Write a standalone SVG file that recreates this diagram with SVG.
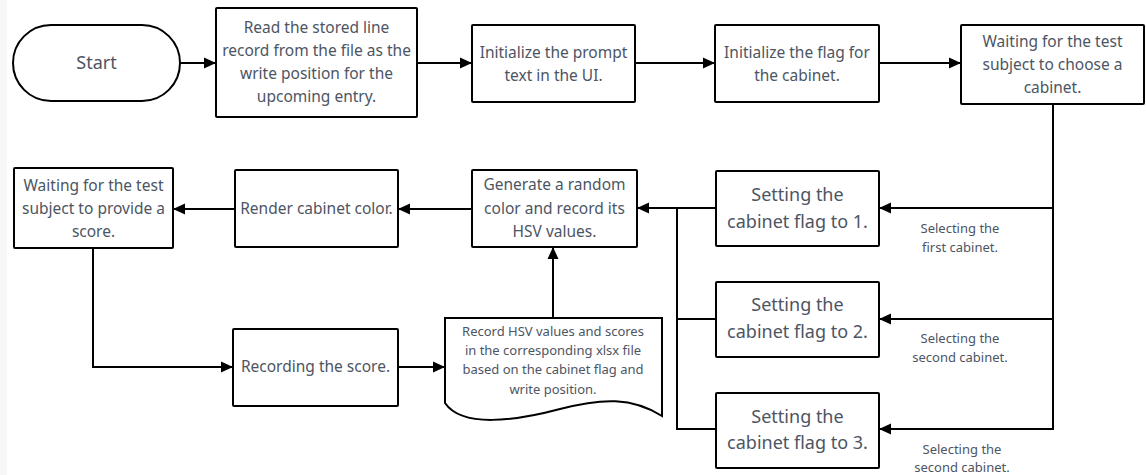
<svg xmlns="http://www.w3.org/2000/svg" width="1146" height="475" viewBox="0 0 1146 475">
<defs>
<style>
.box{fill:#fff;stroke:#000;stroke-width:2}
.t{font-family:"Noto Sans","Liberation Sans",sans-serif;fill:#4d5563;text-anchor:middle}
.m{font-size:15.5px}
.l{font-size:18px}
.s{font-size:13px}
.c{fill:none;stroke:#000;stroke-width:2}
</style>
<marker id="ah" viewBox="0 0 12 12" refX="12" refY="6" markerWidth="12" markerHeight="12" markerUnits="userSpaceOnUse" orient="auto">
<path d="M0,0.5 L12,6 L0,11.5 Z" fill="#000"/>
</marker>
</defs>
<rect x="0" y="0" width="1146" height="475" fill="#fff"/>
<rect x="0" y="0" width="7" height="475" fill="#f7f7f7"/>

<g id="connectors">
<path class="c" d="M180,63 H216" marker-end="url(#ah)"/>
<path class="c" d="M417,63 H472" marker-end="url(#ah)"/>
<path class="c" d="M635,63 H715" marker-end="url(#ah)"/>
<path class="c" d="M879,63 H961" marker-end="url(#ah)"/>
<path class="c" d="M1053,104 V208 H879" marker-end="url(#ah)"/>
<path class="c" d="M1053,208 V319 H879" marker-end="url(#ah)"/>
<path class="c" d="M1053,319 V429 H879" marker-end="url(#ah)"/>
<path class="c" d="M716,208 H637" marker-end="url(#ah)"/>
<path class="c" d="M716,319 H677 V208"/>
<path class="c" d="M716,429 H677 V319"/>
<path class="c" d="M472,209 H398" marker-end="url(#ah)"/>
<path class="c" d="M235,209 H173" marker-end="url(#ah)"/>
<path class="c" d="M93,248 V367 H233" marker-end="url(#ah)"/>
<path class="c" d="M398,367 H445" marker-end="url(#ah)"/>
<path class="c" d="M553,318 V247" marker-end="url(#ah)"/>
<text class="t s" x="960" y="232.5">Selecting the</text>
<text class="t s" x="960" y="251.5">first cabinet.</text>
<text class="t s" x="960" y="342.5">Selecting the</text>
<text class="t s" x="960" y="361.5">second cabinet.</text>
<text class="t s" x="962" y="453.5">Selecting the</text>
<text class="t s" x="962" y="472">second cabinet.</text>
</g>

<g id="start">
<rect class="box" x="13" y="25" width="167" height="76" rx="38" ry="38"/>
<text class="t l" x="96.5" y="69">Start</text>
</g>
<g id="read-record">
<rect class="box" x="216" y="8" width="201" height="109" rx="1"/>
<text class="t m" x="316.5" y="33">Read the stored line</text>
<text class="t m" x="316.5" y="56">record from the file as the</text>
<text class="t m" x="316.5" y="79">write position for the</text>
<text class="t m" x="316.5" y="102">upcoming entry.</text>
</g>
<g id="init-prompt">
<rect class="box" x="472" y="25" width="163" height="77" rx="1"/>
<text class="t m" x="553.5" y="57.5">Initialize the prompt</text>
<text class="t m" x="553.5" y="80.5">text in the UI.</text>
</g>
<g id="init-flag">
<rect class="box" x="715" y="25" width="164" height="77" rx="1"/>
<text class="t m" x="797" y="57.5">Initialize the flag for</text>
<text class="t m" x="797" y="80.5">the cabinet.</text>
</g>
<g id="wait-choose">
<rect class="box" x="961" y="25" width="183" height="79" rx="1"/>
<text class="t m" x="1052.5" y="47">Waiting for the test</text>
<text class="t m" x="1052.5" y="70">subject to choose a</text>
<text class="t m" x="1052.5" y="93">cabinet.</text>
</g>
<g id="flag1">
<rect class="box" x="716" y="171" width="163" height="75" rx="1"/>
<text class="t l" x="797.5" y="201">Setting the</text>
<text class="t l" x="797.5" y="228">cabinet flag to 1.</text>
</g>
<g id="flag2">
<rect class="box" x="716" y="282" width="163" height="75" rx="1"/>
<text class="t l" x="797.5" y="311">Setting the</text>
<text class="t l" x="797.5" y="338">cabinet flag to 2.</text>
</g>
<g id="flag3">
<rect class="box" x="716" y="393" width="163" height="75" rx="1"/>
<text class="t l" x="797.5" y="423">Setting the</text>
<text class="t l" x="797.5" y="449">cabinet flag to 3.</text>
</g>
<g id="generate">
<rect class="box" x="472" y="170" width="165" height="77" rx="1"/>
<text class="t m" x="554.5" y="190">Generate a random</text>
<text class="t m" x="554.5" y="213.5">color and record its</text>
<text class="t m" x="554.5" y="237">HSV values.</text>
</g>
<g id="render">
<rect class="box" x="235" y="170" width="163" height="77" rx="1"/>
<text class="t m" x="316.5" y="214">Render cabinet color.</text>
</g>
<g id="wait-score">
<rect class="box" x="14" y="168" width="159" height="80" rx="1"/>
<text class="t m" x="93.5" y="191">Waiting for the test</text>
<text class="t m" x="93.5" y="214">subject to provide a</text>
<text class="t m" x="93.5" y="237">score.</text>
</g>
<g id="record-score">
<rect class="box" x="233" y="329" width="165" height="77" rx="1"/>
<text class="t m" x="315.5" y="372">Recording the score.</text>
</g>
<g id="record-file">
<path class="box" d="M445,318 H662 V416 C632,397 602,398 560,409 C515,421 462,428 445,403 Z"/>
<text class="t s" x="553" y="335.5">Record HSV values and scores</text>
<text class="t s" x="553" y="354.5">in the corresponding xlsx file</text>
<text class="t s" x="553" y="373.5">based on the cabinet flag and</text>
<text class="t s" x="553" y="393.5">write position.</text>
</g>
</svg>
